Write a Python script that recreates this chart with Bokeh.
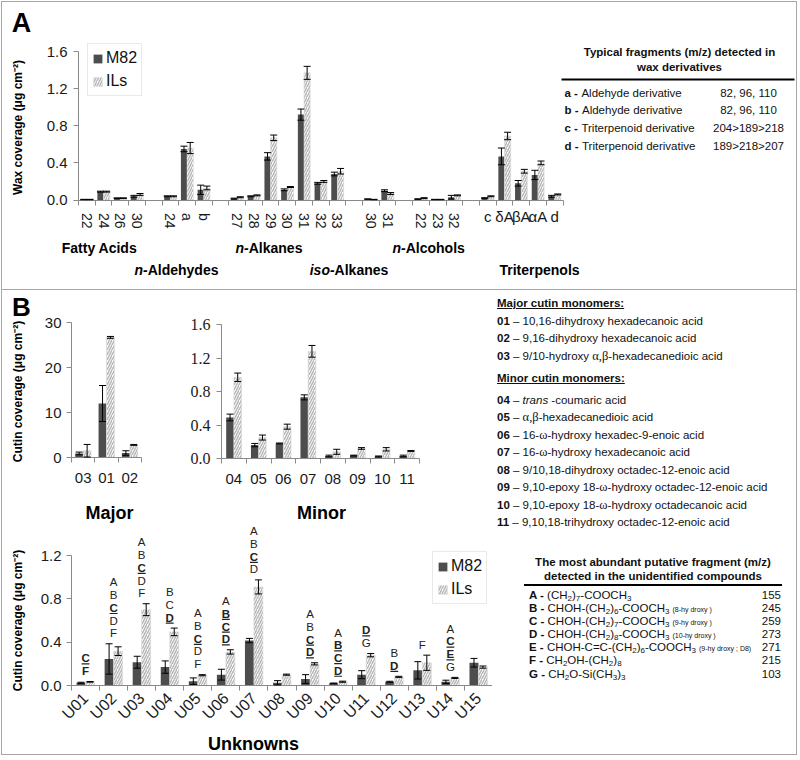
import math
from bokeh.plotting import figure
from bokeh.models import (ColumnDataSource, Whisker, TeeHead, FixedTicker, Label,
                          Legend, LegendItem, Div, Range1d, PrintfTickFormatter, BoxAnnotation)
from bokeh.layouts import row, column
from bokeh.embed import file_html
from bokeh.resources import INLINE
from bokeh.core.properties import value

# ------------------------------------------------------------------ data
# Panel A - wax
wax_groups = ["Fatty Acids", "n-Aldehydes", "n-Alkanes", "iso-Alkanes", "n-Alcohols", "Triterpenols"]
wax_cats = [["22", "24", "26", "30"], ["24", "a", "b"],
            ["27", "28", "29", "30", "31", "32", "33"], ["30", "31"],
            ["22", "23", "32"], ["c", "δA", "βA", "αA", "d"]]
wax_m82 = [0.005, 0.09, 0.02, 0.04, 0.04, 0.55, 0.11, 0.015, 0.04, 0.47, 0.11, 0.92, 0.18, 0.28,
           0.01, 0.10, 0.01, 0.005, 0.03, 0.02, 0.47, 0.18, 0.27, 0.04]
wax_m82_err = [0.002, 0.005, 0.003, 0.01, 0.005, 0.03, 0.05, 0.005, 0.005, 0.04, 0.01, 0.06, 0.01, 0.02,
               0.002, 0.01, 0.003, 0.002, 0.02, 0.005, 0.09, 0.03, 0.05, 0.01]
wax_ils = [0.005, 0.09, 0.02, 0.06, 0.04, 0.56, 0.13, 0.03, 0.05, 0.67, 0.14, 1.37, 0.20, 0.31,
           0.005, 0.07, 0.02, 0.005, 0.05, 0.04, 0.69, 0.31, 0.40, 0.06]
wax_ils_err = [0.002, 0.005, 0.003, 0.01, 0.005, 0.06, 0.02, 0.005, 0.005, 0.03, 0.005, 0.07, 0.01, 0.03,
               0.002, 0.01, 0.005, 0.002, 0.005, 0.005, 0.04, 0.02, 0.02, 0.005]
wax_y_ticks = [0.0, 0.4, 0.8, 1.2, 1.6]
wax_fragments = [("a", "Aldehyde derivative", "82, 96, 110"),
                 ("b", "Aldehyde derivative", "82, 96, 110"),
                 ("c", "Triterpenoid derivative", "204>189>218"),
                 ("d", "Triterpenoid derivative", "189>218>207")]

# Panel B - cutin, major monomers
major_cats = ["03", "01", "02"]
major_m82 = [0.9, 12.0, 1.0]
major_m82_err = [0.3, 4.0, 0.5]
major_ils = [1.5, 26.7, 2.8]
major_ils_err = [1.4, 0.2, 0.1]
major_y_ticks = [0, 10, 20, 30]

# Panel B - cutin, minor monomers
minor_cats = ["04", "05", "06", "07", "08", "09", "10", "11"]
minor_m82 = [0.49, 0.16, 0.18, 0.73, 0.03, 0.035, 0.025, 0.03]
minor_m82_err = [0.04, 0.02, 0.005, 0.03, 0.01, 0.005, 0.005, 0.01]
minor_ils = [0.97, 0.25, 0.38, 1.28, 0.08, 0.12, 0.11, 0.09]
minor_ils_err = [0.05, 0.03, 0.03, 0.07, 0.03, 0.01, 0.02, 0.005]
minor_y_ticks = [0.0, 0.4, 0.8, 1.2, 1.6]

# Panel B - unknowns
unk_cats = ["U%02d" % i for i in range(1, 16)]
unk_m82 = [0.025, 0.245, 0.215, 0.17, 0.04, 0.10, 0.415, 0.025, 0.06, 0.02, 0.10, 0.034, 0.14, 0.034, 0.21]
unk_m82_err = [0.005, 0.14, 0.055, 0.057, 0.03, 0.05, 0.02, 0.02, 0.04, 0.003, 0.037, 0.005, 0.08, 0.015, 0.04]
unk_ils = [0.034, 0.317, 0.70, 0.495, 0.095, 0.31, 0.91, 0.10, 0.20, 0.035, 0.28, 0.08, 0.21, 0.07, 0.17]
unk_ils_err = [0.003, 0.04, 0.055, 0.035, 0.005, 0.02, 0.065, 0.005, 0.01, 0.005, 0.015, 0.005, 0.07, 0.005, 0.01]
unk_y_ticks = [0.0, 0.4, 0.8, 1.2]
# letters listed top to bottom; * = bold + underlined, ! = bold
unk_letters = ["*C !F", "A B *C D F", "A B *C D F", "B C *D", "A B *C D F", "A *B *C *D",
               "A B *C D", "", "A B *C *D", "A *B *C *D", "*D G", "B *D", "F", "A *C *E G", ""]

major_monomers = [("01", "10,16-dihydroxy hexadecanoic acid"),
                  ("02", "9,16-dihydroxy hexadecanoic acid"),
                  ("03", "9/10-hydroxy <span class='g'>α,β</span>-hexadecanedioic acid")]
minor_monomers = [("04", "<i>trans</i> -coumaric acid"),
                  ("05", "<span class='g'>α,β</span>-hexadecanedioic acid"),
                  ("06", "16-<span class='g'>ω</span>-hydroxy hexadec-9-enoic acid"),
                  ("07", "16-<span class='g'>ω</span>-hydroxy hexadecanoic acid"),
                  ("08", "9/10,18-dihydroxy octadec-12-enoic acid"),
                  ("09", "9,10-epoxy 18-<span class='g'>ω</span>-hydroxy octadec-12-enoic acid"),
                  ("10", "9,10-epoxy 18-<span class='g'>ω</span>-hydroxy octadecanoic acid"),
                  ("11", "9,10,18-trihydroxy octadec-12-enoic acid")]
S = "<sub>%s</sub>"
N = "<span class='n'>%s</span>"
unk_fragments = [("A", "(CH" + S % "2" + ")" + S % "7" + "-COOCH" + S % "3", "155"),
                 ("B", "CHOH-(CH" + S % "2" + ")" + S % "6" + "-COOCH" + S % "3" + N % "(8-hy droxy )", "245"),
                 ("C", "CHOH-(CH" + S % "2" + ")" + S % "7" + "-COOCH" + S % "3" + N % "(9-hy droxy )", "259"),
                 ("D", "CHOH-(CH" + S % "2" + ")" + S % "8" + "-COOCH" + S % "3" + N % "(10-hy droxy )", "273"),
                 ("E", "CHOH-C=C-(CH" + S % "2" + ")" + S % "6" + "-COOCH" + S % "3" + N % "(9-hy droxy ; D8)", "271"),
                 ("F", "CH" + S % "2" + "OH-(CH" + S % "2" + ")" + S % "8", "215"),
                 ("G", "CH" + S % "2" + "O-Si(CH" + S % "3" + ")" + S % "3", "103")]

# ------------------------------------------------------------------ style
SANS = "Liberation Sans"
SERIF = "Liberation Serif"
DARK = "#4d4d4d"
HATCH = "#b8b8b8"
AXIS = "#8a8a8a"
TXT = "#1a1a1a"


def chart(w, h, box, xr, yr):
    """Figure whose frame fills the canvas; box = pixel edges of the data area."""
    l, t, r, b = box
    kx = (r - l) / (xr[1] - xr[0])
    ky = (b - t) / (yr[1] - yr[0])
    p = figure(width=w, height=h,
               x_range=Range1d(xr[0] - l / kx, xr[1] + (w - r) / kx),
               y_range=Range1d(yr[0] - (h - b) / ky, yr[1] + t / ky),
               output_backend="svg", toolbar_location=None,
               min_border_left=0, min_border_right=0, min_border_top=0, min_border_bottom=0)
    p.background_fill_color = "white"
    p.border_fill_color = "white"
    p.outline_line_color = None
    p.xgrid.visible = False
    p.ygrid.visible = False
    p.xaxis.fixed_location = yr[0]
    p.xaxis.bounds = tuple(xr)
    p.yaxis.fixed_location = xr[0]
    p.yaxis.bounds = tuple(yr)
    for ax in p.axis:
        ax.axis_line_color = AXIS
        ax.major_tick_line_color = AXIS
        ax.minor_tick_line_color = AXIS
        ax.major_tick_in = 0
        ax.minor_tick_in = 0
        ax.major_tick_out = 5
        ax.minor_tick_out = 5
        ax.major_label_text_font = SANS
        ax.major_label_text_font_size = "15px"
        ax.major_label_text_color = TXT

    def fx(px):
        return xr[0] + (px - l) / kx

    def fy(py):
        return yr[0] + (b - py) / ky
    return p, fx, fy


def lab(p, x, y, text, size="11.5px", style="normal", align="left", angle=0.0, x_offset=0,
        color="#111111", font=SANS):
    p.add_layout(Label(x=x, y=y, text=text, text_font=font, text_font_size=size, text_font_style=style,
                       text_align=align, text_baseline="middle", angle=angle, x_offset=x_offset,
                       text_color=color))


def add_bars(p, xs, m82, m82e, ils, ilse, w, head):
    xm = [x - w / 2 for x in xs]
    xi = [x + w / 2 for x in xs]
    s1 = ColumnDataSource(dict(x=xm, top=m82, up=[a + b for a, b in zip(m82, m82e)],
                               lo=[max(0, a - b) for a, b in zip(m82, m82e)]))
    s2 = ColumnDataSource(dict(x=xi, top=ils, up=[a + b for a, b in zip(ils, ilse)],
                               lo=[max(0, a - b) for a, b in zip(ils, ilse)]))
    r1 = p.vbar(x="x", top="top", bottom=0, width=w, source=s1, fill_color=DARK, line_color=None)
    r2 = p.vbar(x="x", top="top", bottom=0, width=w, source=s2, fill_color="white",
                line_color="#d8d8d8", line_width=0.6,
                hatch_pattern="/", hatch_color=HATCH, hatch_scale=5, hatch_weight=1.5)
    for s in (s1, s2):
        p.add_layout(Whisker(source=s, base="x", upper="up", lower="lo", level="overlay",
                             line_color="black", line_width=1,
                             upper_head=TeeHead(size=head, line_color="black", line_width=1),
                             lower_head=TeeHead(size=head, line_color="black", line_width=1)))
    return r1, r2


def add_legend(p, r1, r2, vx, vy):
    lg = Legend(items=[LegendItem(label="M82", renderers=[r1]), LegendItem(label="ILs", renderers=[r2])],
                location=(vx, vy), border_line_color="#d4d4d4", background_fill_color="white",
                padding=4, spacing=3, margin=0, glyph_width=11, glyph_height=11, label_standoff=3,
                label_height=20, label_text_font=SANS, label_text_font_size="16px",
                label_text_color="#111111")
    p.add_layout(lg)


def cat_axis(ax, n, names, standoff):
    ax.ticker = FixedTicker(ticks=list(range(n)), minor_ticks=[i - 0.5 for i in range(n + 1)])
    ax.major_tick_out = 0
    ax.major_label_standoff = standoff
    ax.major_label_overrides = {i: c for i, c in enumerate(names)}


# ------------------------------------------------------------------ Panel A
A_W, A_H = 794, 287
wax_x, wax_lab, wax_grp = [], [], []
pos = 0
for gi, cats in enumerate(wax_cats):
    for c in cats:
        wax_x.append(pos)
        wax_lab.append(c)
        wax_grp.append(gi)
        pos += 1
    pos += 1
n_slots = pos - 1
pA, ax_, ay_ = chart(A_W, A_H, (76, 49, 560.5, 197.5), (-0.5, n_slots - 0.5), (0, 1.6))
r1, r2 = add_bars(pA, wax_x, wax_m82, wax_m82_err, wax_ils, wax_ils_err, 0.37, 7)

yax = pA.yaxis[0]
yax.ticker = FixedTicker(ticks=wax_y_ticks)
yax.formatter = PrintfTickFormatter(format="%.1f")
yax.major_label_standoff = 6

xax = pA.xaxis[0]
xax.ticker = FixedTicker(ticks=wax_x, minor_ticks=[i - 0.5 for i in range(n_slots + 1)])
xax.major_tick_out = 0
xax.major_label_orientation = "vertical"
xax.major_label_standoff = 8
xax.major_label_text_font_size = "14px"
xax.major_label_overrides = {x: (l if wax_grp[i] != 5 else "") for i, (x, l) in enumerate(zip(wax_x, wax_lab))}
for x, l, g in zip(wax_x, wax_lab, wax_grp):
    if g == 5:
        lab(pA, x, ay_(214), l, size="15px", align="center", color=TXT)

lab(pA, ax_(15), ay_(125), "Wax coverage (μg cm⁻²)", size="12px", style="bold", align="center",
    angle=math.pi / 2, color="#000000")

# group labels: (row, centre px)
grp_place = [(0, 97), (1, 175), (0, 268), (1, 348), (0, 429), (1, 537)]
prefix_w = {"n-": 13.2, "iso-": 24.9}
for gname, (rw, cx) in zip(wax_groups, grp_place):
    yv = ay_(245 if rw == 0 else 267)
    xv = ax_(cx)
    if gname.startswith("n-") or gname.startswith("iso-"):
        pre = gname.split("-")[0] + "-"
        rest = gname[len(pre):]
        w1 = prefix_w[pre]
        w2 = len(rest) * 8.1
        off = (w1 - w2) / 2
        lab(pA, xv, yv, pre, size="14px", style="bold italic", align="right", x_offset=off, color="#000000")
        lab(pA, xv, yv, rest, size="14px", style="bold", align="left", x_offset=off, color="#000000")
    else:
        lab(pA, xv, yv, gname, size="14px", style="bold", align="center", color="#000000")

lab(pA, ax_(19), ay_(20), "A", size="27px", style="bold", align="center", color="#000000")
add_legend(pA, r1, r2, 85, A_H - 94)

# fragment table (panel A, right)
lab(pA, ax_(677), ay_(49), "Typical fragments (m/z) detected in", style="bold", align="center")
lab(pA, ax_(677), ay_(64), "wax derivatives", style="bold", align="center")
pA.add_layout(BoxAnnotation(left=ax_(559), right=ax_(792), top=ay_(76), bottom=ay_(78),
                            fill_color="#000000", fill_alpha=1, line_color=None))
key_w = {"a": 13.4, "b": 14.0, "c": 13.4, "d": 14.0}
for i, (k, d, v) in enumerate(wax_fragments):
    yy = ay_(90 + i * 17.9)
    lab(pA, ax_(562), yy, k + " -", style="bold")
    lab(pA, ax_(562), yy, d, x_offset=key_w[k] + 3.5)
    lab(pA, ax_(746), yy, v, align="center")

# ------------------------------------------------------------------ Panel B major
UP_H = 234
pM, mx_, my_ = chart(147, UP_H, (69, 32, 139, 167), (-0.5, len(major_cats) - 0.5), (0, 30))
add_bars(pM, list(range(len(major_cats))), major_m82, major_m82_err, major_ils, major_ils_err, 0.34, 7)
pM.yaxis[0].ticker = FixedTicker(ticks=major_y_ticks)
pM.yaxis[0].major_label_standoff = 5
cat_axis(pM.xaxis[0], len(major_cats), major_cats, 10)
lab(pM, mx_(15), my_(101), "Cutin coverage (μg cm⁻²)", size="12px", style="bold", align="center",
    angle=math.pi / 2, color="#000000")
lab(pM, mx_(107), my_(222), "Major", size="18px", style="bold", align="center", color="#000000")
lab(pM, mx_(19), my_(16), "B", size="26px", style="bold", align="center", color="#000000")

# ------------------------------------------------------------------ Panel B minor
pN, nx_, ny_ = chart(343, UP_H, (72, 34, 270, 168), (-0.5, len(minor_cats) - 0.5), (0, 1.6))
add_bars(pN, list(range(len(minor_cats))), minor_m82, minor_m82_err, minor_ils, minor_ils_err, 0.31, 7)
yn = pN.yaxis[0]
yn.ticker = FixedTicker(ticks=minor_y_ticks)
yn.formatter = PrintfTickFormatter(format="%.1f")
yn.major_label_text_font = SERIF
yn.major_label_text_font_size = "16px"
yn.major_label_standoff = 6
cat_axis(pN.xaxis[0], len(minor_cats), minor_cats, 10)
lab(pN, nx_(172), ny_(222), "Minor", size="18px", style="bold", align="center", color="#000000")

# ------------------------------------------------------------------ Panel B unknowns
U_W, U_H = 490, 230
U_PXU = 130.0 / 1.2
pU, ux_, uy_ = chart(U_W, U_H, (69, 31, 490, 161), (-0.5, len(unk_cats) - 0.5), (0, 1.2))
ur1, ur2 = add_bars(pU, list(range(len(unk_cats))), unk_m82, unk_m82_err, unk_ils, unk_ils_err, 0.32, 7)
yu = pU.yaxis[0]
yu.ticker = FixedTicker(ticks=unk_y_ticks)
yu.formatter = PrintfTickFormatter(format="%.1f")
yu.major_label_standoff = 5
xu = pU.xaxis[0]
cat_axis(xu, len(unk_cats), unk_cats, 5)
xu.major_label_orientation = math.pi / 4
xu.major_label_text_font_size = "16px"
lab(pU, ux_(15), uy_(96), "Cutin coverage (μg cm⁻²)", size="12px", style="bold", align="center",
    angle=math.pi / 2, color="#000000")
lab(pU, ux_(251), uy_(219), "Unknowns", size="18px", style="bold", align="center", color="#000000")

LET_GAP, LET_STEP = 10.5, 12.7
lx, ly, lt, lst = [], [], [], []
ux0, ux1, uyy = [], [], []
for i, spec in enumerate(unk_letters):
    toks = spec.split()
    top = max(unk_m82[i] + unk_m82_err[i], unk_ils[i] + unk_ils_err[i])
    n = len(toks)
    for j, tok in enumerate(toks):
        k = n - 1 - j
        yv = top + (LET_GAP + LET_STEP * k) / U_PXU
        lx.append(i)
        ly.append(yv)
        lt.append(tok.lstrip("*!"))
        lst.append("bold" if tok[0] in "*!" else "normal")
        if tok[0] == "*":
            ux0.append(i - 0.14)
            ux1.append(i + 0.14)
            uyy.append(yv - 5.6 / U_PXU)
pU.text(x="x", y="y", text="t", text_font_style="st",
        source=ColumnDataSource(dict(x=lx, y=ly, t=lt, st=lst)),
        text_align="center", text_baseline="middle", text_font=value(SANS),
        text_font_size="11.5px", text_color="#222222")
pU.segment(x0=ux0, y0=uyy, x1=ux1, y1=uyy, line_color="#222222", line_width=1.2)
add_legend(pU, ur1, ur2, 430, U_H - 80)

# ------------------------------------------------------------------ Panel B text
COLW = 304
FONT = "font-family:'Liberation Sans',Arial,sans-serif;"
G = "<style>.g{font-family:'Liberation Serif',serif;font-size:12.5px;}</style>"
lines = []
t = 5.25
lines.append((t, "<b><u>Major cutin monomers:</u></b>"))
for k, d in major_monomers:
    t += 17.5
    lines.append((t, f"<b>{k}</b> – {d}"))
t += 17.5 + 5
lines.append((t, "<b><u>Minor cutin monomers:</u></b>"))
t += 4
for k, d in minor_monomers:
    t += 17.5
    lines.append((t, f"<b>{k}</b> – {d}"))
html1 = (G + f"<div style=\"position:relative;width:{COLW}px;height:254px;{FONT}font-size:11.5px;color:#111;\">"
         + "".join(f"<div style='position:absolute;left:5px;top:{tp}px;line-height:17.5px;white-space:nowrap;'>{tx}</div>"
                   for tp, tx in lines) + "</div>")
div1 = Div(text=html1, width=COLW, height=254, margin=0)

rows2 = ""
for i, (k, d, v) in enumerate(unk_fragments):
    tp = 45.2 + i * 13.05
    rows2 += (f"<div style='position:absolute;left:37px;top:{tp}px;line-height:13px;white-space:nowrap;'><b>{k} -</b> {d}</div>"
              f"<div style='position:absolute;left:250px;width:39px;text-align:right;top:{tp}px;line-height:13px;'>{v}</div>")
html2 = ("<style>sub{font-size:8px;line-height:0;vertical-align:-2px;} .n{font-size:7px;margin-left:3px;}</style>"
         f"<div style=\"position:relative;width:{COLW}px;height:208px;{FONT}font-size:11.5px;color:#111;\">"
         "<div style='position:absolute;left:32px;width:258px;top:11px;text-align:center;font-weight:bold;line-height:14px;'>"
         "The most abundant putative fragment (m/z)<br>detected in the unidentified compounds</div>"
         "<div style='position:absolute;left:32px;width:258px;top:40px;border-top:2px solid #000;'></div>"
         + rows2 + "</div>")
div2 = Div(text=html2, width=COLW, height=210, margin=0)

# ------------------------------------------------------------------ layout
panelA = column(pA, styles={"border-bottom": "1px solid #a6a6a6"})
leftB = column(row(pM, pN), pU)
panelB = row(leftB, column(div1, div2))
page = column(panelA, panelB, margin=(1, 0, 0, 1), styles={"border": "1px solid #a6a6a6"})

open("out.html", "w").write(file_html(page, INLINE))
